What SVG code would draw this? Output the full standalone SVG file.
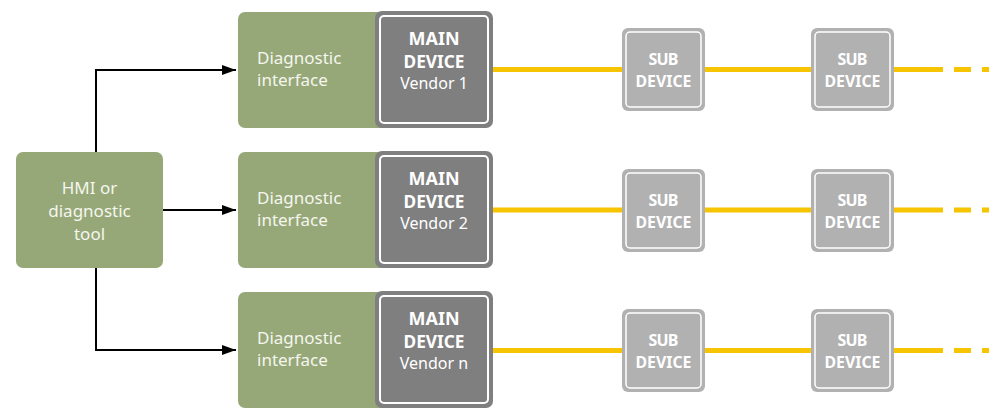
<svg xmlns="http://www.w3.org/2000/svg" width="989" height="408" viewBox="0 0 989 408">
<style>
.green{fill:#97a878}
.gt{font-family:"Noto Sans","Open Sans",sans-serif;font-size:17px;fill:#f4f6ef}
.main{fill:#7f7f7f}
.inner{fill:none;stroke:#ffffff;stroke-width:2}
.mt{font-family:"Noto Sans","Open Sans",sans-serif;fill:#ffffff;text-anchor:middle}
.mb{font-size:18px;font-weight:bold}
.sub{fill:#b1b1b1}
.bus{stroke:#f6c400;stroke-width:5;fill:none}
.conn{stroke:#000;stroke-width:2;fill:none}
</style>
<defs>
<marker id="arr" viewBox="0 0 14 10" refX="14" refY="5" markerWidth="14" markerHeight="10" markerUnits="userSpaceOnUse" orient="auto">
<path d="M0,0 L14,5 L0,10 z" fill="#000"/>
</marker>
<g id="subdev">
<rect x="0" y="0" width="83" height="83" rx="6" class="sub"/>
<rect x="4" y="4" width="75" height="75" rx="4" fill="none" stroke="#fff" stroke-width="1.5"/>
<text class="mt" x="41.5" y="37" font-size="16" font-weight="bold" textLength="30">SUB</text>
<text class="mt" x="41.5" y="59" font-size="16" font-weight="bold" textLength="56" lengthAdjust="spacingAndGlyphs">DEVICE</text>
</g>
</defs>
<g id="connectors">
<polyline class="conn" points="96,152 96,70 236,70" marker-end="url(#arr)"/>
<line class="conn" x1="163" y1="210" x2="236" y2="210" marker-end="url(#arr)"/>
<polyline class="conn" points="96,268 96,350 236,350" marker-end="url(#arr)"/>
<path class="bus" d="M492,69.5 H622 M705,69.5 H811 M893,69.5 H943 M954,69.5 H971 M982,69.5 H989"/>
<path class="bus" d="M492,210 H622 M705,210 H811 M893,210 H943 M954,210 H971 M982,210 H989"/>
<path class="bus" d="M492,350.5 H622 M705,350.5 H811 M893,350.5 H943 M954,350.5 H971 M982,350.5 H989"/>
</g>
<g id="hmi">
<rect x="16" y="152" width="147" height="116" rx="7" class="green"/>
<text class="gt" x="89.5" y="194" text-anchor="middle" font-size="17.5">HMI or</text>
<text class="gt" x="89.5" y="217" text-anchor="middle" font-size="17.5">diagnostic</text>
<text class="gt" x="89.5" y="240" text-anchor="middle" font-size="17.5">tool</text>
</g>
<g id="diag1">
<rect x="238" y="12" width="150" height="116" rx="7" class="green"/>
<text class="gt" x="257" y="64">Diagnostic</text>
<text class="gt" x="257" y="86">interface</text>
</g>
<g id="main1">
<rect x="375" y="11" width="118" height="117" rx="7" class="main"/>
<rect x="380" y="16" width="108" height="107" rx="4" class="inner"/>
<text class="mt mb" x="434" y="45" textLength="51" lengthAdjust="spacingAndGlyphs">MAIN</text>
<text class="mt mb" x="434" y="68" textLength="61" lengthAdjust="spacingAndGlyphs">DEVICE</text>
<text class="mt" x="434" y="89" font-size="16">Vendor 1</text>
</g>
<g id="diag2">
<rect x="238" y="152" width="150" height="116" rx="7" class="green"/>
<text class="gt" x="257" y="204">Diagnostic</text>
<text class="gt" x="257" y="226">interface</text>
</g>
<g id="main2">
<rect x="375" y="151" width="118" height="117" rx="7" class="main"/>
<rect x="380" y="156" width="108" height="107" rx="4" class="inner"/>
<text class="mt mb" x="434" y="185" textLength="51" lengthAdjust="spacingAndGlyphs">MAIN</text>
<text class="mt mb" x="434" y="208" textLength="61" lengthAdjust="spacingAndGlyphs">DEVICE</text>
<text class="mt" x="434" y="229" font-size="16">Vendor 2</text>
</g>
<g id="diag3">
<rect x="238" y="292" width="150" height="116" rx="7" class="green"/>
<text class="gt" x="257" y="344">Diagnostic</text>
<text class="gt" x="257" y="366">interface</text>
</g>
<g id="main3">
<rect x="375" y="291" width="118" height="117" rx="7" class="main"/>
<rect x="380" y="296" width="108" height="107" rx="4" class="inner"/>
<text class="mt mb" x="434" y="325" textLength="51" lengthAdjust="spacingAndGlyphs">MAIN</text>
<text class="mt mb" x="434" y="348" textLength="61" lengthAdjust="spacingAndGlyphs">DEVICE</text>
<text class="mt" x="434" y="369" font-size="16">Vendor n</text>
</g>
<g id="sub1a"><use href="#subdev" x="622" y="28"/></g>
<g id="sub1b"><use href="#subdev" x="811" y="28"/></g>
<g id="sub2a"><use href="#subdev" x="622" y="169"/></g>
<g id="sub2b"><use href="#subdev" x="811" y="169"/></g>
<g id="sub3a"><use href="#subdev" x="622" y="309"/></g>
<g id="sub3b"><use href="#subdev" x="811" y="309"/></g>
</svg>
